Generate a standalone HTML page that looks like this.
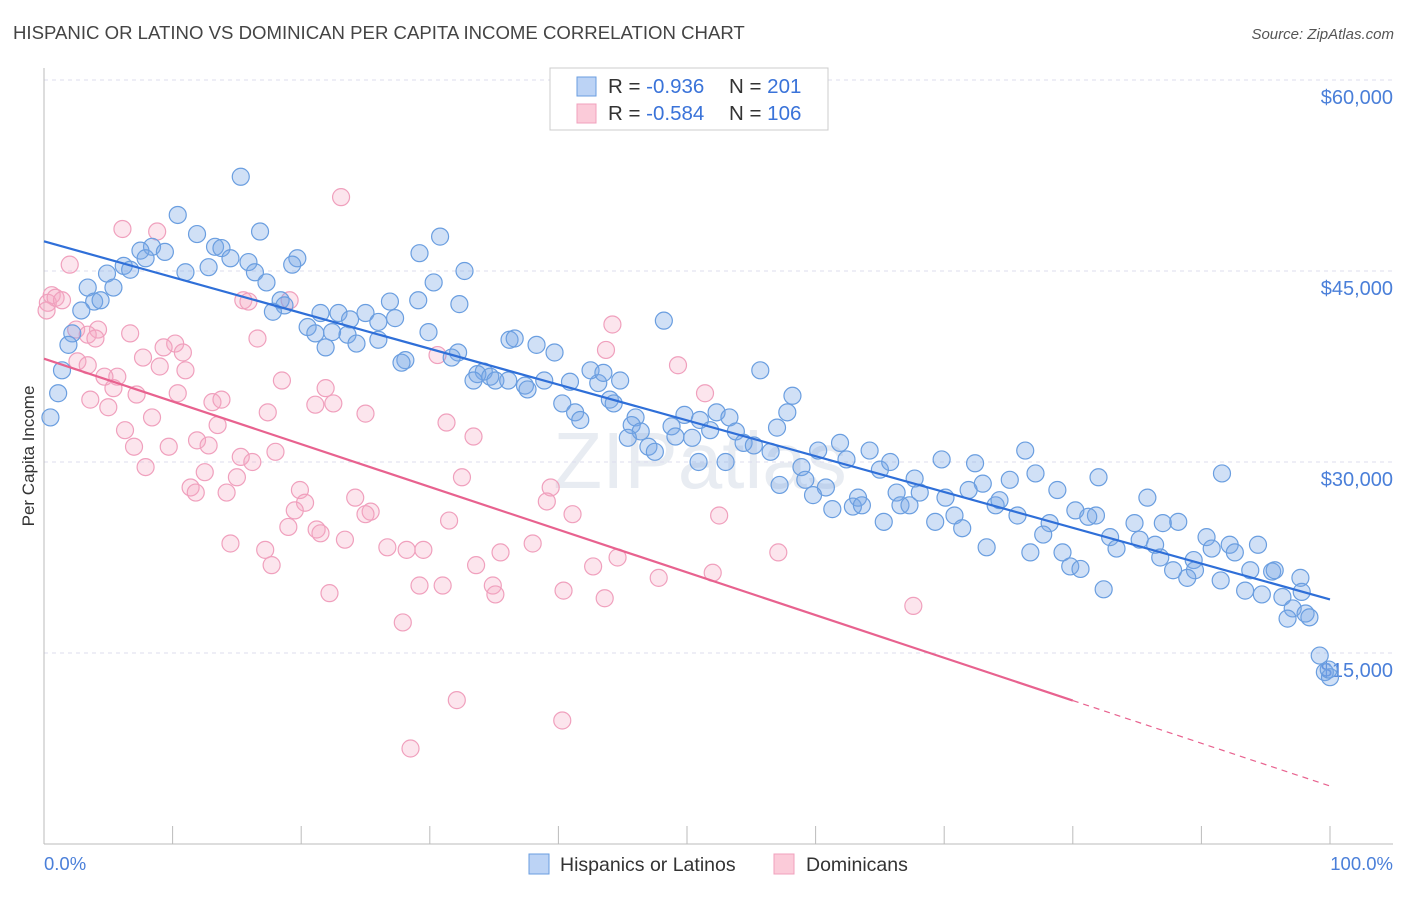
<!DOCTYPE html>
<html><head><meta charset="utf-8"><style>
body{margin:0;background:#fff;font-family:"Liberation Sans",sans-serif;}
svg text{font-family:"Liberation Sans",sans-serif;}
</style></head><body>
<svg id="chart" width="1406" height="892" xmlns="http://www.w3.org/2000/svg">
<text x="13" y="39" font-size="18.6" fill="#444">HISPANIC OR LATINO VS DOMINICAN PER CAPITA INCOME CORRELATION CHART</text>
<text x="1394" y="39" font-size="15" fill="#555" font-style="italic" text-anchor="end">Source: ZipAtlas.com</text>
<text transform="translate(34,456) rotate(-90)" font-size="17" fill="#333" text-anchor="middle">Per Capita Income</text>
<text x="700" y="488" font-size="80" fill="#e8ecf2" text-anchor="middle" font-family="Liberation Serif">ZIPatlas</text>
<g id="grid"></g><g id="xticks"></g>
<g id="pinkPts"></g><g id="bluePts"></g><g id="lines"></g>
<g>
<rect x="550" y="68" width="278" height="62" fill="#fff" stroke="#ccc"/>
<rect x="577" y="77" width="19" height="19" fill="#bcd3f5" stroke="#6a9ee0"/>
<rect x="577" y="104" width="19" height="19" fill="#fbcbd9" stroke="#f0a0bd"/>
<text x="608" y="93" font-size="20.5" fill="#333">R = <tspan fill="#3a73d9">-0.936</tspan><tspan x="729">N = </tspan><tspan fill="#3a73d9">201</tspan></text>
<text x="608" y="120" font-size="20.5" fill="#333">R = <tspan fill="#3a73d9">-0.584</tspan><tspan x="729">N = </tspan><tspan fill="#3a73d9">106</tspan></text>
</g>
<text x="44" y="870" font-size="18.5" fill="#4a7fd9">0.0%</text>
<text x="1393" y="870" font-size="18.5" fill="#4a7fd9" text-anchor="end">100.0%</text>
<g>
<rect x="529" y="854" width="20" height="20" fill="#bcd3f5" stroke="#6a9ee0"/>
<text x="560" y="871" font-size="19.5" fill="#333">Hispanics or Latinos</text>
<rect x="774" y="854" width="20" height="20" fill="#fbcbd9" stroke="#f0a0bd"/>
<text x="806" y="871" font-size="19.5" fill="#333">Dominicans</text>
</g>
</svg>
<script>
const yTicks=[15000,30000,45000,60000];
const yTickLabels=["$15,000","$30,000","$45,000","$60,000"];
const xTicks=[0,10,20,30,40,50,60,70,80,90,100];
const blueX=[15.3,10.4,11.9,16.8,30.8,29.2,8.4,7.5,9.4,13.3,13.8,14.5,15.9,19.7,19.3,6.2,6.7,4.9,11.0,12.8,32.7,16.4,7.9,3.4,5.4,17.3,30.3,3.9,4.4,2.9,18.4,18.7,17.8,26.9,29.1,32.3,21.5,22.9,25.0,27.3,23.8,26.0,20.5,21.1,22.4,23.6,26.0,21.9,24.3,29.9,2.2,1.9,48.2,36.2,36.6,38.3,39.7,32.2,31.7,28.1,27.8,55.7,34.2,33.7,34.7,35.1,36.1,33.4,37.4,38.9,40.9,43.1,44.8,42.5,43.5,37.6,40.3,41.3,41.7,44.0,44.3,58.2,57.8,49.8,51.0,52.3,53.3,46.0,45.7,46.4,48.8,49.1,50.4,51.8,53.8,45.4,47.0,47.5,54.4,55.2,56.5,57.0,60.2,61.9,64.2,76.3,50.9,53.0,62.4,65.0,69.8,72.4,58.9,65.8,91.6,77.1,67.7,59.2,57.2,60.8,73.0,75.1,82.0,78.8,59.8,63.3,66.3,68.1,70.1,71.9,85.8,74.0,74.3,62.9,63.6,66.6,67.3,80.2,81.8,81.2,75.7,69.3,70.8,65.3,61.3,78.2,84.8,87.0,88.2,71.4,77.7,82.9,85.2,90.4,83.4,73.3,86.4,90.8,92.2,94.4,76.7,79.2,92.6,89.4,86.8,79.8,80.6,87.8,89.5,93.8,95.5,95.7,88.9,91.5,97.7,82.4,93.4,94.7,96.3,97.8,97.1,98.1,96.7,98.4,99.2,99.6,100,99.9,1.1,0.5,1.4];
const blueY=[52.4,49.4,47.9,48.1,47.7,46.4,46.9,46.6,46.5,46.9,46.8,46.0,45.7,46.0,45.5,45.4,45.1,44.8,44.9,45.3,45.0,44.9,46.0,43.7,43.7,44.1,44.1,42.6,42.7,41.9,42.7,42.3,41.8,42.6,42.7,42.4,41.7,41.7,41.7,41.3,41.2,41.0,40.6,40.1,40.2,40.0,39.6,39.0,39.3,40.2,40.1,39.2,41.1,39.6,39.7,39.2,38.6,38.6,38.2,38.0,37.8,37.2,37.1,36.9,36.7,36.4,36.4,36.4,36.0,36.4,36.3,36.2,36.4,37.2,37.0,35.7,34.6,33.9,33.3,34.9,34.6,35.2,33.9,33.7,33.3,33.9,33.5,33.5,32.9,32.4,32.8,32.0,31.9,32.5,32.4,31.9,31.2,30.8,31.5,31.3,30.8,32.7,30.9,31.5,30.9,30.9,30.0,30.0,30.2,29.4,30.2,29.9,29.6,30.0,29.1,29.1,28.7,28.6,28.2,28.0,28.3,28.6,28.8,27.8,27.4,27.2,27.6,27.6,27.2,27.8,27.2,26.6,27.0,26.5,26.6,26.6,26.6,26.2,25.8,25.7,25.8,25.3,25.8,25.3,26.3,25.2,25.2,25.2,25.3,24.8,24.3,24.1,23.9,24.1,23.2,23.3,23.5,23.2,23.5,23.5,22.9,22.9,22.9,22.3,22.5,21.8,21.6,21.5,21.5,21.5,21.4,21.5,20.9,20.7,20.9,20.0,19.9,19.6,19.4,19.8,18.5,18.1,17.7,17.8,14.8,13.5,13.1,13.7,35.4,33.5,37.2];
const pinkX=[23.1,6.1,8.8,2.0,0.6,0.3,0.9,1.4,0.2,15.5,15.9,19.1,44.2,2.5,4.2,6.7,3.4,4.0,16.6,10.2,9.3,43.7,10.8,30.6,7.7,2.6,3.4,9.0,49.3,11.0,5.7,4.7,18.5,5.4,21.9,7.2,10.4,51.4,3.6,13.1,13.8,5.0,21.1,22.5,17.4,25.0,8.4,31.3,13.5,6.3,33.4,11.9,12.8,7.0,9.7,18.0,15.3,16.2,7.9,12.5,15.0,32.5,11.4,11.8,14.2,19.9,39.4,24.2,39.1,20.3,19.5,25.4,25.0,41.1,52.5,31.5,21.2,21.5,19.0,23.4,14.5,38.0,26.7,17.2,28.2,29.5,35.5,57.1,44.6,17.7,33.6,42.7,52.0,47.8,29.2,31.0,34.9,35.1,22.2,40.4,43.6,67.6,27.9,32.1,40.3,28.5];
const pinkY=[50.8,48.3,48.1,45.5,43.1,42.5,42.9,42.7,41.9,42.7,42.6,42.7,40.8,40.4,40.4,40.1,40.0,39.7,39.7,39.3,39.0,38.8,38.6,38.4,38.2,37.9,37.6,37.5,37.6,37.2,36.7,36.7,36.4,35.8,35.8,35.3,35.4,35.4,34.9,34.7,34.9,34.3,34.5,34.6,33.9,33.8,33.5,33.1,32.9,32.5,32.0,31.7,31.3,31.2,31.2,30.8,30.4,30.0,29.6,29.2,28.8,28.8,28.0,27.6,27.6,27.8,28.0,27.2,26.9,26.8,26.2,26.1,25.9,25.9,25.8,25.4,24.7,24.4,24.9,23.9,23.6,23.6,23.3,23.1,23.1,23.1,22.9,22.9,22.5,21.9,21.9,21.8,21.3,20.9,20.3,20.3,20.3,19.6,19.7,19.9,19.3,18.7,17.4,11.3,9.7,7.5];
const NS='http://www.w3.org/2000/svg';
const X=p=>44+p*12.86, Y=v=>844-v/15000*191;
function mk(tag,attrs,parent){const e=document.createElementNS(NS,tag);for(const k in attrs)e.setAttribute(k,attrs[k]);parent.appendChild(e);return e;}
const grid=document.getElementById('grid');
yTicks.forEach((t,i)=>{
 const l=mk('line',{x1:44,x2:1393,y1:Y(t),y2:Y(t),stroke:'#dde',"stroke-dasharray":'4,4'},grid);
 
 
 const tx=mk('text',{x:1393,y:Y(t)+24,"font-size":20,fill:'#4a7fd9',"text-anchor":'end'},grid);
 tx.textContent=yTickLabels[i];
 
 
});
const xt=document.getElementById('xticks');
mk('line',{x1:44,x2:1393,y1:844,y2:844,stroke:'#bbb'},xt);
mk('line',{x1:44,x2:44,y1:68,y2:844,stroke:'#bbb'},xt);
xTicks.forEach(t=>{const l=mk('line',{x1:X(t),x2:X(t),y1:826,y2:844,stroke:'#bbb'},xt);
 
 });
function pts(xs,ys,g,fill,stroke,name){
 const G=document.getElementById(g);
 xs.forEach((x,i)=>{const c=mk('circle',{cx:X(x),cy:Y(ys[i]*1000),r:8.5,fill:fill,stroke:stroke,"stroke-width":1.2},G);
 
 });
}
pts(pinkX,pinkY,'pinkPts','rgba(246,170,196,0.3)','#f0a0bd','dominican-point');
pts(blueX,blueY,'bluePts','rgba(120,165,230,0.35)','#6a9ee0','hispanic-point');
function reg(xs,ys){const n=xs.length;let sx=0,sy=0,sxx=0,sxy=0;for(let i=0;i<n;i++){sx+=xs[i];sy+=ys[i];sxx+=xs[i]*xs[i];sxy+=xs[i]*ys[i];}
 const b=(n*sxy-sx*sy)/(n*sxx-sx*sx);return [(sy-b*sx)/n,b];}
const L=document.getElementById('lines');
const [ba,bb]=reg(blueX,blueY);
const bl=mk('line',{x1:X(0),y1:Y(ba*1000),x2:X(100),y2:Y((ba+bb*100)*1000),stroke:'#2f6fd8',"stroke-width":2.2},L);


const [pa,pb]=reg(pinkX,pinkY);
const pl=mk('line',{x1:X(0),y1:Y(pa*1000),x2:X(80),y2:Y((pa+pb*80)*1000),stroke:'#e8628f',"stroke-width":2.2},L);


const pd=mk('line',{x1:X(80),y1:Y((pa+pb*80)*1000),x2:X(100),y2:Y((pa+pb*100)*1000),stroke:'#e8628f',"stroke-width":1.2,"stroke-dasharray":'6,5'},L);


</script>
</body></html>
